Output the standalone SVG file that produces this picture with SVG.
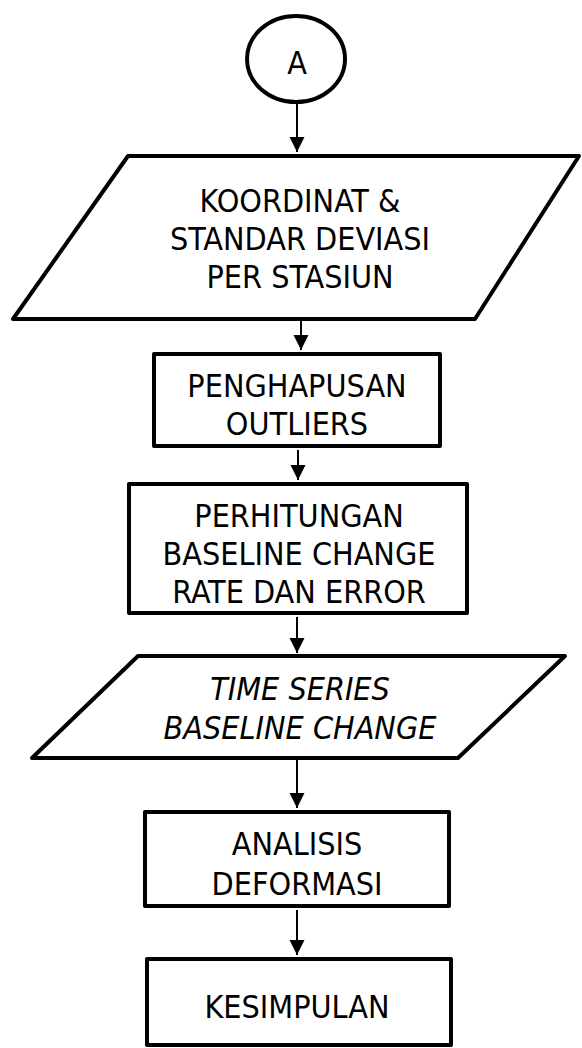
<svg xmlns="http://www.w3.org/2000/svg" width="582" height="1048" viewBox="0 0 582 1048">
<style>
.shape{fill:#fff;stroke:#000;stroke-width:4;stroke-linejoin:round}
.lbl{font-family:'DejaVu Sans Condensed','DejaVu Sans',sans-serif;font-stretch:condensed;font-size:32px;fill:#000;text-anchor:middle}
.it{font-style:italic}
.conn{stroke:#000;stroke-width:2;fill:none}
</style>
<defs>
<marker id="ah" markerUnits="userSpaceOnUse" markerWidth="16" markerHeight="16" viewBox="0 0 16 16" refX="15" refY="8" orient="auto">
<path d="M0,0.5 L15,8 L0,15.5 Z" fill="#000"/>
</marker>
</defs>
<rect width="582" height="1048" fill="#fff"/>
<g id="connectors">
<line class="conn" x1="297" y1="104" x2="297" y2="152" marker-end="url(#ah)"/>
<line class="conn" x1="301" y1="321" x2="301" y2="350" marker-end="url(#ah)"/>
<line class="conn" x1="298" y1="450" x2="298" y2="480" marker-end="url(#ah)"/>
<line class="conn" x1="297" y1="617" x2="297" y2="653" marker-end="url(#ah)"/>
<line class="conn" x1="297" y1="760" x2="297" y2="808" marker-end="url(#ah)"/>
<line class="conn" x1="297" y1="910" x2="297" y2="955" marker-end="url(#ah)"/>
</g>
<g id="nodeA">
<ellipse class="shape" cx="296" cy="59" rx="49" ry="43"/>
<text class="lbl" x="297" y="74">A</text>
</g>
<g id="input1">
<polygon class="shape" points="128,156 579,156 475,319 13,319"/>
<text class="lbl" x="300" y="212">KOORDINAT &amp;</text>
<text class="lbl" x="300" y="250">STANDAR DEVIASI</text>
<text class="lbl" x="300" y="288">PER STASIUN</text>
</g>
<g id="outliers">
<rect class="shape" x="154" y="354" width="286" height="92"/>
<text class="lbl" x="297" y="397">PENGHAPUSAN</text>
<text class="lbl" x="297" y="435">OUTLIERS</text>
</g>
<g id="perhitungan">
<rect class="shape" x="129" y="484" width="338" height="129"/>
<text class="lbl" x="299" y="527">PERHITUNGAN</text>
<text class="lbl" x="299" y="565">BASELINE CHANGE</text>
<text class="lbl" x="299" y="603">RATE DAN ERROR</text>
</g>
<g id="timeseries">
<polygon class="shape" points="138,656 565,656 458,758 32,758"/>
<text class="lbl it" x="300" y="700">TIME SERIES</text>
<text class="lbl it" x="300" y="739">BASELINE CHANGE</text>
</g>
<g id="analisis">
<rect class="shape" x="145" y="812" width="304" height="94"/>
<text class="lbl" x="297" y="855">ANALISIS</text>
<text class="lbl" x="297" y="895">DEFORMASI</text>
</g>
<g id="kesimpulan">
<rect class="shape" x="147" y="959" width="304" height="86"/>
<text class="lbl" x="297" y="1018">KESIMPULAN</text>
</g>
</svg>
